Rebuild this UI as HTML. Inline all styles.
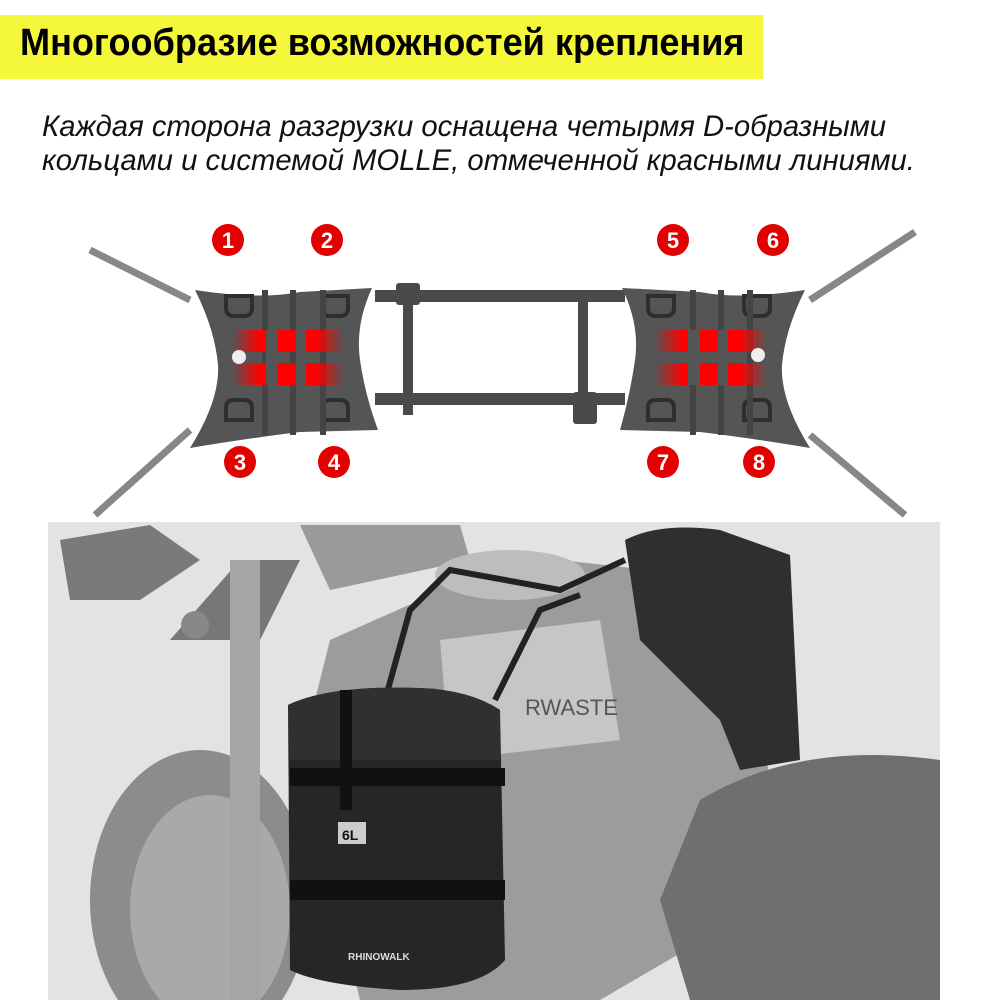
<!DOCTYPE html>
<html><head><meta charset="utf-8"><style>
html,body{margin:0;padding:0;background:#fff;width:1000px;height:1000px;overflow:hidden;font-family:"Liberation Sans",sans-serif}
.banner{position:absolute;left:0;top:15px;width:763px;height:64px;background:#f4f73a}
.t{position:absolute;white-space:nowrap;transform-origin:0 0}
</style></head><body>
<div class="banner"></div>
<div class="t" style="left:20px;top:22px;font-size:38px;font-weight:bold;color:#000;transform:scaleX(0.95)">Многообразие возможностей крепления</div>
<div class="t" style="left:42px;top:110px;font-size:30px;font-style:italic;color:#111;transform:scaleX(0.975)">Каждая сторона разгрузки оснащена четырмя D-образными</div>
<div class="t" style="left:42px;top:144px;font-size:30px;font-style:italic;color:#111;transform:scaleX(0.975)">кольцами и системой MOLLE, отмеченной красными линиями.</div>

<svg width="1000" height="1000" style="position:absolute;left:0;top:0">
<defs>
<linearGradient id="rl" x1="0" x2="1"><stop offset="0" stop-color="#f00" stop-opacity="0"/><stop offset="0.25" stop-color="#f00"/><stop offset="0.75" stop-color="#f00"/><stop offset="1" stop-color="#f00" stop-opacity="0"/></linearGradient>
</defs>
<g stroke="#6a6a6a" stroke-width="7" opacity="0.8">
<line x1="90" y1="250" x2="190" y2="300"/><line x1="95" y1="515" x2="190" y2="430"/>
<line x1="915" y1="232" x2="810" y2="300"/><line x1="905" y1="515" x2="810" y2="435"/>
</g>
<g fill="#4a4a4a">
<rect x="375" y="290" width="250" height="12"/>
<rect x="375" y="393" width="250" height="12"/>
<rect x="403" y="290" width="10" height="125"/>
<rect x="578" y="290" width="10" height="125"/>
<rect x="396" y="283" width="24" height="22" rx="3"/>
<rect x="573" y="392" width="24" height="32" rx="3"/>
</g>
<path d="M195,290 Q260,300 300,292 L372,288 Q355,325 360,360 Q365,395 378,430 L300,432 Q250,438 190,448 Q220,400 218,365 Q215,330 195,290Z" fill="#555"/>
<path d="M805,290 Q740,300 700,292 L622,288 Q640,325 635,360 Q630,395 620,430 L700,432 Q750,438 810,448 Q780,400 782,365 Q785,330 805,290Z" fill="#555"/>
<g fill="none" stroke="#2e2e2e" stroke-width="4">
<path d="M226,296 v12 q0,8 8,8 h10 q8,0 8,-8 v-12z"/><path d="M322,296 v12 q0,8 8,8 h10 q8,0 8,-8 v-12z"/>
<path d="M226,420 v-12 q0,-8 8,-8 h10 q8,0 8,8 v12z"/><path d="M322,420 v-12 q0,-8 8,-8 h10 q8,0 8,8 v12z"/>
<path d="M648,296 v12 q0,8 8,8 h10 q8,0 8,-8 v-12z"/><path d="M744,296 v12 q0,8 8,8 h10 q8,0 8,-8 v-12z"/>
<path d="M648,420 v-12 q0,-8 8,-8 h10 q8,0 8,8 v12z"/><path d="M744,420 v-12 q0,-8 8,-8 h10 q8,0 8,8 v12z"/>
</g>
<g fill="#444"><rect x="262" y="290" width="6" height="145"/><rect x="290" y="290" width="6" height="145"/><rect x="320" y="290" width="6" height="145"/>
<rect x="690" y="290" width="6" height="145"/><rect x="718" y="290" width="6" height="145"/><rect x="747" y="290" width="6" height="145"/></g>
<g fill="url(#rl)">
<rect x="232" y="330" width="112" height="22"/><rect x="232" y="363" width="112" height="22"/>
<rect x="655" y="330" width="112" height="22"/><rect x="655" y="363" width="112" height="22"/>
</g>
<g fill="#555"><rect x="266" y="330" width="12" height="55"/><rect x="296" y="330" width="10" height="55"/>
<rect x="688" y="330" width="12" height="55"/><rect x="718" y="330" width="10" height="55"/></g>
<circle cx="239" cy="357" r="7" fill="#eee"/><circle cx="758" cy="355" r="7" fill="#eee"/>
<g fill="#e30000"><circle cx="228" cy="240" r="16"/><circle cx="327" cy="240" r="16"/><circle cx="673" cy="240" r="16"/><circle cx="773" cy="240" r="16"/>
<circle cx="240" cy="462" r="16"/><circle cx="334" cy="462" r="16"/><circle cx="663" cy="462" r="16"/><circle cx="759" cy="462" r="16"/></g>
<g fill="#fff" font-family="Liberation Sans" font-weight="bold" font-size="22" text-anchor="middle">
<text x="228" y="248">1</text><text x="327" y="248">2</text><text x="673" y="248">5</text><text x="773" y="248">6</text>
<text x="240" y="470">3</text><text x="334" y="470">4</text><text x="663" y="470">7</text><text x="759" y="470">8</text></g>

<rect x="48" y="522" width="892" height="478" fill="#e3e3e3"/>
<path d="M60,540 L150,525 L200,560 L140,600 L70,600Z" fill="#7a7a7a"/>
<path d="M300,525 L460,525 L470,560 L330,590Z" fill="#9a9a9a"/>
<path d="M170,640 L240,560 L300,560 L260,640Z" fill="#777"/>
<circle cx="195" cy="625" r="14" fill="#888"/>
<ellipse cx="200" cy="900" rx="110" ry="150" fill="#8c8c8c"/>
<ellipse cx="210" cy="910" rx="80" ry="115" fill="#a9a9a9"/>
<rect x="230" y="560" width="30" height="440" fill="#a5a5a5"/>
<path d="M420,600 Q450,545 560,560 L650,570 Q720,640 760,720 L770,780 L720,930 L600,1000 L360,1000 L300,760 L330,640Z" fill="#9c9c9c"/>
<ellipse cx="510" cy="575" rx="75" ry="25" fill="#bdbdbd"/>
<path d="M440,640 L600,620 L620,740 L450,760Z" fill="#d8d8d8" opacity="0.7"/>
<text x="525" y="715" font-size="22" fill="#555" font-family="Liberation Sans">RWASTE</text>
<path d="M700,800 Q800,740 940,760 L940,1000 L690,1000 L660,900Z" fill="#6f6f6f"/>
<path d="M625,540 Q660,522 720,530 L790,555 L800,760 L740,770 L720,720 L640,640Z" fill="#2f2f2f"/>
<g stroke="#222" stroke-width="6" fill="none"><path d="M385,700 L410,610 L450,570 L560,590 L625,560"/><path d="M495,700 L540,610 L580,595"/></g>
<path d="M288,705 Q330,685 420,688 Q470,690 500,710 L505,960 Q480,990 400,990 Q320,985 290,970Z" fill="#262626"/>
<path d="M288,705 Q330,685 420,688 Q470,690 500,710 L500,760 L290,760Z" fill="#303030"/>
<g fill="#111"><rect x="290" y="768" width="215" height="18"/><rect x="290" y="880" width="215" height="20"/><rect x="340" y="690" width="12" height="120"/></g>
<rect x="338" y="822" width="28" height="22" fill="#ccc"/><text x="342" y="840" font-size="14" font-weight="bold" fill="#111" font-family="Liberation Sans">6L</text>
<text x="348" y="960" font-size="10" font-weight="bold" fill="#ddd" font-family="Liberation Sans">RHINOWALK</text>
</svg>
</body></html>
